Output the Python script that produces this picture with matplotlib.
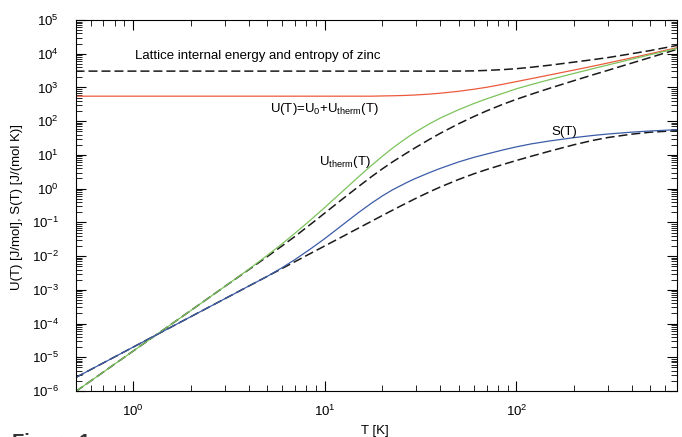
import matplotlib
matplotlib.use('Agg')
import matplotlib.pyplot as plt
from matplotlib.ticker import LogLocator, NullFormatter
import numpy as np

plt.rcParams['font.family'] = ['Liberation Sans', 'DejaVu Sans']
plt.rcParams['mathtext.fontset'] = 'custom'
plt.rcParams['mathtext.rm'] = 'Liberation Sans'
plt.rcParams['mathtext.it'] = 'Liberation Sans:italic'

# temperature grid [K]
T = [0.5, 1, 2, 3, 4, 5, 6, 7, 8.5, 10, 12, 15, 17.5, 20, 22.5, 25, 27.5, 30, 35, 40, 50,
     60, 70, 85, 100, 120, 150, 200, 250, 300, 400, 500, 690]

# solid curves: U(T), U_therm(T), S(T)
u_total = [551, 551, 551, 551, 551, 551, 551, 551, 551, 551, 551, 551, 551, 560, 567, 575,
           586, 600, 633, 674, 770, 884, 1012, 1240, 1490, 1830, 2360, 3280, 4250, 5300,
           7550, 10000, 15100]
u_therm = [9.55e-7, 1.53e-5, 2.44e-4, 1.24e-3, 4.02e-3, 1.04e-2, 2.33e-2, 4.78e-2, 0.122,
           0.276, 0.706, 2.23, 4.82, 9.14, 15.6, 24.2, 35.4, 48.8, 82.2, 123, 219, 333, 461,
           667, 912, 1220, 1720, 2610, 3580, 4620, 6870, 9330, 14400]
s_ent = [2.49e-6, 2.0e-5, 1.60e-4, 5.38e-4, 1.28e-3, 2.49e-3, 4.55e-3, 7.93e-3, 1.69e-2,
         3.29e-2, 7.33e-2, 0.195, 0.367, 0.610, 0.910, 1.24, 1.63, 2.04, 2.95, 3.96, 6.19,
         8.45, 10.6, 14.0, 17.3, 21.3, 26.0, 32.5, 37.6, 41.6, 47.3, 51.2, 56.0]

# dashed reference curves
u_total_ref = [3050, 3050, 3050, 3050, 3050, 3050, 3050, 3050, 3050, 3050, 3050, 3050, 3050,
               3050, 3050, 3050, 3050, 3050, 3050, 3050, 3060, 3100, 3200, 3380, 3600, 3980,
               4580, 5640, 6650, 7670, 10000, 12400, 17600]
u_therm_ref = [9.55e-7, 1.53e-5, 2.44e-4, 1.24e-3, 3.91e-3, 9.55e-3, 2.02e-2, 3.85e-2,
               9.06e-2, 0.188, 0.428, 1.15, 2.24, 3.87, 6.10, 8.93, 12.5, 16.9, 28.3, 43.4,
               83.9, 137, 202, 316, 444, 632, 955, 1590, 2350, 3210, 5270, 7740, 13490]
s_ent_ref = [2.49e-6, 2.0e-5, 1.60e-4, 5.38e-4, 1.28e-3, 2.49e-3, 4.32e-3, 6.86e-3, 1.23e-2,
             2.0e-2, 3.45e-2, 6.75e-2, 0.107, 0.160, 0.227, 0.309, 0.406, 0.520, 0.789, 1.11,
             1.87, 2.75, 3.68, 5.18, 6.82, 9.16, 13.0, 20.0, 26.8, 32.7, 41.2, 47.1, 52.5]

fig = plt.figure(figsize=(6.82, 4.37), dpi=100)
ax = fig.add_axes([75.5 / 682, 46 / 437, 601.5 / 682, 371 / 437])

dash = (0, (5.9, 2.6))
ax.plot(T, u_total_ref, color='#1a1a1a', lw=1.1, ls=dash)
ax.plot(T, u_therm_ref, color='#1a1a1a', lw=1.1, ls=dash)
ax.plot(T, s_ent_ref, color='#1a1a1a', lw=1.1, ls=dash)
ax.plot(T, u_total, color='#ec5a3c', lw=0.9)
ax.plot(T, u_therm, color='#7cc35c', lw=0.9)
ax.plot(T, s_ent, color='#3c5ca8', lw=0.9)

ax.set_xscale('log')
ax.set_yscale('log')
ax.set_xlim(0.5, 690)
ax.set_ylim(1e-6, 1e5)

for axis in (ax.xaxis, ax.yaxis):
    axis.set_major_locator(LogLocator(base=10, numticks=30))
    axis.set_minor_locator(LogLocator(base=10, subs=np.arange(2, 10), numticks=30))
    axis.set_minor_formatter(NullFormatter())

ax.tick_params(which='both', direction='in', top=True, right=True, labelsize=9.5)
ax.tick_params(which='major', length=7, width=0.8)
ax.tick_params(which='minor', length=4, width=0.6)
ax.tick_params(axis='y', pad=12)
ax.tick_params(axis='x', pad=9)
for sp in ax.spines.values():
    sp.set_linewidth(0.8)

ax.text(0.099, 0.894, 'Lattice internal energy and entropy of zinc', transform=ax.transAxes,
        fontsize=9.5, ha='left', va='baseline')
ax.text(0.323, 0.753, r'U(T)=U$_0$+U$_{\rm therm}$(T)', transform=ax.transAxes,
        fontsize=9.5, ha='left', va='baseline')
ax.text(0.404, 0.609, r'U$_{\rm therm}$(T)', transform=ax.transAxes,
        fontsize=9.5, ha='left', va='baseline')
ax.text(0.792, 0.690, 'S(T)', transform=ax.transAxes,
        fontsize=9.5, ha='left', va='baseline')

fig.text(17.5 / 682, 1 - 206.5 / 437, 'U(T) [J/mol], S(T) [J/(mol K)]', rotation=90,
         ha='center', va='center', fontsize=9.5)
fig.text(375 / 682, 1 - 425 / 437, 'T [K]', ha='center', va='top', fontsize=9.5)
fig.text(12 / 682, 1 - 432.5 / 437, 'Figure 1', ha='left', va='top', fontsize=14.5,
         fontweight='bold', color='#333333')

fig.savefig('out.png', dpi=100)
